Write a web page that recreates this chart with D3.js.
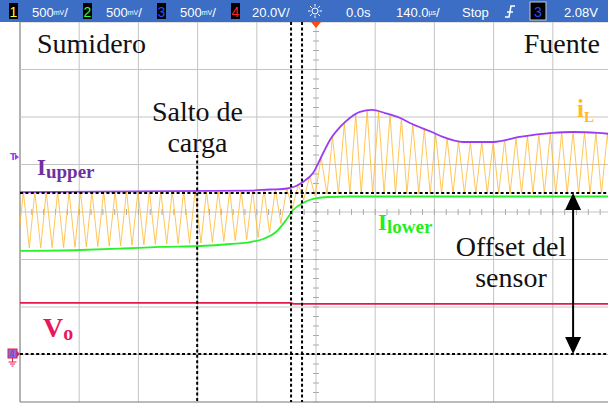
<!DOCTYPE html>
<html><head><meta charset="utf-8">
<script src="https://cdn.jsdelivr.net/npm/d3@7"></script>
<style>body{margin:0;background:#fff}svg{display:block}</style>
</head><body><svg id="c" width="608" height="405"></svg>
<script>
// ---------- DATA ----------
// time in microseconds (140 us/div), channel values in volts (500 mV/div)
const upperT = [-700,-156,-109,-78,-61,-47,-31,-7,17,33,57,80,104,132,163,199,222,274,300,348,419,482,558,608,667,700];
const upperV = [0.21,0.226,0.237,0.242,0.253,0.274,0.316,0.41,0.621,0.758,0.895,0.99,1.053,1.074,1.042,0.99,0.937,0.842,0.79,0.737,0.737,0.79,0.832,0.842,0.832,0.82];
const lowerT = [-700,-558,-456,-369,-274,-203,-156,-125,-92,-69,-54,-31,-7,26,80,700];
const lowerV = [-0.41,-0.40,-0.384,-0.368,-0.358,-0.337,-0.316,-0.284,-0.2,-0.074,0.021,0.095,0.137,0.158,0.163,0.163];
const ilPeakT = [-692,-665,-638,-611,-584,-557,-530,-502,-475,-448,-421,-394,-367,-340,-313,-286,-259,-231,-204,-177,-150,-123,-96,-69,-42,-15,12,39,67,94,121,148,175,202,229,256,283,310,337,365,392,419,446,473,500,527,554,581,608,635,662,689];
const ilPeakV = [0.210,0.211,0.212,0.213,0.213,0.214,0.215,0.216,0.217,0.217,0.218,0.219,0.220,0.221,0.221,0.222,0.223,0.224,0.225,0.225,0.227,0.234,0.239,0.248,0.287,0.379,0.577,0.792,0.936,1.027,1.066,1.057,1.025,0.983,0.924,0.875,0.824,0.779,0.749,0.737,0.737,0.737,0.760,0.782,0.800,0.815,0.830,0.837,0.842,0.837,0.833,0.821];
const ilValleyT = [-706,-678,-651,-624,-597,-570,-543,-516,-489,-462,-435,-407,-380,-353,-326,-299,-272,-245,-218,-191,-164,-137,-110,-83,-56,-29,-2,26,53,80,107,134,161,188,215,243,270,297,324,351,378,405,432,459,486,513,540,567,594,621,648,675,703];
const ilValleyV = [-0.378,-0.378,-0.377,-0.375,-0.373,-0.371,-0.368,-0.363,-0.359,-0.355,-0.350,-0.345,-0.340,-0.336,-0.333,-0.331,-0.327,-0.319,-0.311,-0.302,-0.290,-0.266,-0.216,-0.121,0.038,0.129,0.170,0.188,0.190,0.193,0.193,0.193,0.193,0.193,0.193,0.193,0.193,0.193,0.193,0.193,0.193,0.193,0.193,0.193,0.193,0.193,0.193,0.193,0.193,0.193,0.193,0.193,0.193];
// channel 4 output voltage (20 V/div)
const voT = [-700,-62,-52,700];
const voV = [21.5,21.5,21.1,21.1];
// cursors / markers
const cursorLevel = 0.2;          // horizontal dashed cursor (V)
const cursorTimes = [-59,-33];    // vertical dashed cursors (us)
const loadStepTime = -281;        // "Salto de carga"
const offsetArrowTime = 608;
const headerScales = ["500","500","500","20.0V/"];

// ---------- SCALES ----------
const svg = d3.select("#c");
const x = d3.scaleLinear().domain([-700,700]).range([20,612]);
const y = d3.scaleLinear().domain([-2,2]).range([402,22]);
const y4 = d3.scaleLinear().domain([0,20]).range([354,306.5]);

svg.append("rect").attr("width",608).attr("height",405).attr("fill","#fff");

// ---------- GRID ----------
const grid = svg.append("g");
const gridT = d3.range(-700,701,140), gridV = d3.range(-2,2.01,0.5);
grid.selectAll(".gv").data(gridT).join("line")
  .attr("x1",d=>x(d)).attr("x2",d=>x(d)).attr("y1",22).attr("y2",402)
  .attr("stroke",(d,i)=>i===0?"#666":"#c4c4c4").attr("stroke-width",1);
grid.selectAll(".gh").data(gridV).join("line")
  .attr("x1",20).attr("x2",608).attr("y1",d=>y(d)).attr("y2",d=>y(d))
  .attr("stroke",(d,i)=>i===0?"#777":"#c4c4c4").attr("stroke-width",1);
grid.selectAll(".mt").data(d3.range(-700,701,28)).join("line")
  .attr("x1",d=>x(d)).attr("x2",d=>x(d)).attr("y1",y(0)-3).attr("y2",y(0)+3)
  .attr("stroke","#aaa");
grid.selectAll(".mv").data(d3.range(-2,2.01,0.1)).join("line")
  .attr("x1",x(0)-3).attr("x2",x(0)+3).attr("y1",d=>y(d)).attr("y2",d=>y(d))
  .attr("stroke","#aaa");

// ---------- TRACES ----------
svg.append("defs").append("clipPath").attr("id","clip")
  .append("rect").attr("x",20).attr("y",22).attr("width",588).attr("height",380);
const tr = svg.append("g").attr("clip-path","url(#clip)");
const line = d3.line().x(d=>x(d[0])).y(d=>y(d[1]));
const zip = (a,b)=>a.map((t,i)=>[t,b[i]]);
const ilPts = [];
ilValleyT.forEach((t,i)=>{
  ilPts.push([t,ilValleyV[i]]);
  if(i<ilPeakT.length) ilPts.push([ilPeakT[i],ilPeakV[i]]);
});
tr.append("path").attr("d",line(ilPts)).attr("fill","none")
  .attr("stroke","#ffb830").attr("stroke-opacity",0.8).attr("stroke-width",1);
tr.append("path").attr("d",line.curve(d3.curveMonotoneX)(zip(lowerT,lowerV))).attr("fill","none")
  .attr("stroke","#2cf02c").attr("stroke-width",1.8);
tr.append("path").attr("d",line.curve(d3.curveMonotoneX)(zip(upperT,upperV))).attr("fill","none")
  .attr("stroke","#9a3cf4").attr("stroke-width",1.8);
tr.append("path").attr("d",d3.line().x(d=>x(d[0])).y(d=>y4(d[1]))(zip(voT,voV))).attr("fill","none")
  .attr("stroke","#e6194b").attr("stroke-width",1.8);

// ---------- CURSORS ----------
const dash = {"stroke":"#000","stroke-width":2,"stroke-dasharray":"3,2.4"};
function styl(sel,o){for(const k in o) sel.attr(k,o[k]); return sel;}
styl(svg.append("line").attr("x1",20).attr("x2",608).attr("y1",y(cursorLevel)).attr("y2",y(cursorLevel)),dash);
styl(svg.append("line").attr("x1",20).attr("x2",608).attr("y1",y4(0)).attr("y2",y4(0)),dash);
cursorTimes.forEach(t=>styl(svg.append("line").attr("x1",x(t)).attr("x2",x(t)).attr("y1",22).attr("y2",402),dash));
styl(svg.append("line").attr("x1",x(loadStepTime)).attr("x2",x(loadStepTime)).attr("y1",y(0.6)).attr("y2",402),dash);

// ---------- OFFSET ARROW ----------
const ax = x(offsetArrowTime), ay1 = y(cursorLevel), ay2 = y4(0);
svg.append("line").attr("x1",ax).attr("x2",ax).attr("y1",ay1+12).attr("y2",ay2-12)
  .attr("stroke","#000").attr("stroke-width",2);
svg.append("path").attr("d",`M${ax},${ay1} L${ax-8},${ay1+17} L${ax+8},${ay1+17}Z`).attr("fill","#000");
svg.append("path").attr("d",`M${ax},${ay2} L${ax-8},${ay2-17} L${ax+8},${ay2-17}Z`).attr("fill","#000");

// ---------- LABELS ----------
const serif = "'Liberation Serif','Times New Roman',serif";
function txt(s,xx,yy,size,opts={}){
  const t = svg.append("text").attr("x",xx).attr("y",yy).attr("font-family",serif)
    .attr("font-size",size).attr("fill",opts.fill||"#111")
    .attr("font-weight",opts.bold?"bold":"normal")
    .attr("text-anchor",opts.anchor||"start").text(s);
  return t;
}
txt("Sumidero",37,53,28);
txt("Fuente",600,53,28,{anchor:"end"});
txt("Salto de",197.5,121,28,{anchor:"middle"});
txt("carga",197.5,152,28,{anchor:"middle"});
txt("Offset del",511,256,28,{anchor:"middle"});
txt("sensor",511,287,28,{anchor:"middle"});
function sub(main,s,xx,yy,size,ssize,dy,fill){
  const t = txt(main,xx,yy,size,{bold:true,fill});
  t.append("tspan").attr("font-size",ssize).attr("dy",dy).text(s);
}
sub("I","upper",37,175,23,19,3,"#7030a0");
sub("I","lower",378,230,23,19,3,"#22ee22");
sub("V","o",43,337,28,20,3,"#e8175d");
sub("i","L",577,117,25,15,5,"#ffbb22");

// ---------- LEFT / TOP MARKERS ----------
svg.append("text").attr("x",10).attr("y",160).attr("font-family","DejaVu Sans").attr("font-size",9)
  .attr("font-weight","bold").attr("fill","#9a3cf4").text("T");
svg.append("path").attr("d","M15,154 L19,157 L15,160Z").attr("fill","#9a3cf4");
svg.append("rect").attr("x",8).attr("y",349).attr("width",9).attr("height",9).attr("fill","#7a6cf0").attr("stroke","#e6194b");
svg.append("text").attr("x",12.5).attr("y",357).attr("text-anchor","middle").attr("font-family","DejaVu Sans")
  .attr("font-size",8).attr("fill","#e6194b").text("4");
svg.append("path").attr("d","M17,351 L20,354 L17,357Z").attr("fill","#e6194b");
svg.append("path").attr("d","M12.5,358 V362 M8.5,362 H16.5 M10,364 H15 M11.5,366 H13.5").attr("stroke","#e6194b").attr("fill","none");
svg.append("path").attr("d",`M${x(0)-5},22 L${x(0)+5},22 L${x(0)},28Z`).attr("fill","#ff4a10");

// ---------- HEADER ----------
const hdr = svg.append("g");
hdr.append("rect").attr("x",0).attr("y",0).attr("width",608).attr("height",22).attr("fill","#3b6ec4");
const sans = "'Liberation Sans',Arial,sans-serif";
const chColors = ["#ffff30","#30ff30","#2a4cff","#ff2020"];
const boxX = [9,83,157,231], valX = [32,106,180,252];
headerScales.forEach((s,i)=>{
  hdr.append("rect").attr("x",boxX[i]).attr("y",3).attr("width",9).attr("height",16).attr("fill","#000");
  hdr.append("text").attr("x",boxX[i]+4.5).attr("y",17).attr("text-anchor","middle").attr("font-family",sans)
    .attr("font-size",14).attr("fill",chColors[i]).text(String(i+1));
  const t = hdr.append("text").attr("x",valX[i]).attr("y",17).attr("font-family",sans).attr("font-size",13).attr("fill","#fff");
  if(s.endsWith("/")) t.text(s);
  else { t.text(s); t.append("tspan").attr("font-size",7).attr("dy",-2).text("mV"); t.append("tspan").attr("dy",2).text("/"); }
});
// sun icon
const sx=315, sy=11;
hdr.append("circle").attr("cx",sx).attr("cy",sy).attr("r",3).attr("fill","none").attr("stroke","#fff");
d3.range(8).forEach(k=>{const a=k*Math.PI/4;
  hdr.append("line").attr("x1",sx+4.5*Math.cos(a)).attr("y1",sy+4.5*Math.sin(a))
    .attr("x2",sx+7*Math.cos(a)).attr("y2",sy+7*Math.sin(a)).attr("stroke","#fff");});
const htxt=(s,xx)=>hdr.append("text").attr("x",xx).attr("y",17).attr("font-family",sans).attr("font-size",13).attr("fill","#fff").text(s);
htxt("0.0s",346);
const tb = htxt("140.0",396); tb.append("tspan").attr("font-size",7).attr("dy",-2).text("µs"); tb.append("tspan").attr("dy",2).text("/");
htxt("Stop",462);
hdr.append("path").attr("d","M505,17 H509 L511,6 H515 M507,12 H513").attr("stroke","#fff").attr("stroke-width",1.5).attr("fill","none");
hdr.append("rect").attr("x",530).attr("y",2).attr("width",16).attr("height",18).attr("fill","#000").attr("stroke","#ccc");
hdr.append("text").attr("x",538).attr("y",17).attr("text-anchor","middle").attr("font-family",sans).attr("font-size",14).attr("fill","#2a4cff").text("3");
htxt("2.08V",564);
</script></body></html>
